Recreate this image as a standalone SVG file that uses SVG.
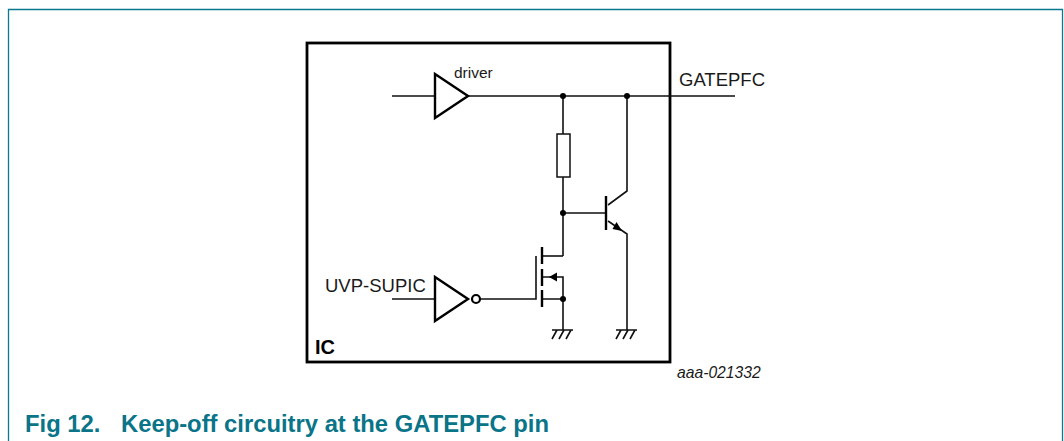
<svg xmlns="http://www.w3.org/2000/svg" width="1064" height="441" viewBox="0 0 1064 441">
<style>
text{font-family:"Liberation Sans",Arial,sans-serif;fill:#1a1a1a}
.w{fill:none;stroke:#111;stroke-width:1.6}
.t{fill:none;stroke:#000;stroke-width:2.4}
.d{fill:#000;stroke:none}
.l{font-size:18.500px}
.c{fill:#0a7488}
</style>
<defs>
<g id="gnd"><path class="w" d="M-10 0H11M-5 0L-10 9M2 0L-3 9M9 0L4 9"/></g>
</defs>
<rect width="1064" height="441" fill="#fff"/>
<path id="frame" d="M8.500 441V9.500H1062.500V441" fill="none" stroke="#0a7a8e" stroke-width="1.300"/>
<rect id="ic" x="307" y="43" width="363" height="319" fill="none" stroke="#000" stroke-width="2.800"/>
<g id="connectors">
<path class="w" d="M392 96H435M468 96H735"/>
<path class="w" d="M563 96V134M563 177V256M563 213H606"/>
<path class="w" d="M627 96V191L608 205M608 221L627 234V330"/>
<path class="w" d="M392 299H435M480 299H536V256"/>
<path class="w" d="M542 299H563M542 277H563V330"/>
<path class="w" d="M542 256H563"/>
</g>
<g id="driver"><path class="t" d="M435 74V118L468 96Z"/><text x="454" y="78" font-size="15.500">driver</text></g>
<g id="inverter"><path class="t" d="M435 277V321L468 299Z"/><circle cx="476" cy="299" r="4" fill="none" stroke="#000" stroke-width="2.200"/></g>
<g id="resistor"><rect x="557" y="134" width="13" height="43" fill="#fff" stroke="#111" stroke-width="1.500"/></g>
<g id="junctions">
<circle class="d" cx="563" cy="96" r="3"/><circle class="d" cx="627" cy="96" r="3"/>
<circle class="d" cx="563" cy="213" r="3"/><circle class="d" cx="563" cy="299" r="3"/>
</g>
<g id="bjt"><path class="t" d="M606 196V230"/><path class="d" d="M622 231L612.500 229L616.500 222Z"/></g>
<g id="mosfet"><path class="t" d="M542 247V264M542 269V286M542 290V307"/><path class="d" d="M549 277L557 272.500V281.500Z"/></g>
<use id="ground-1" href="#gnd" x="562" y="330"/>
<use id="ground-2" href="#gnd" x="626" y="330"/>
<text x="679" y="86" class="l">GATEPFC</text>
<text x="325" y="292" class="l">UVP-SUPIC</text>
<text x="315" y="354" font-size="20" font-weight="bold" style="fill:#000">IC</text>
<text x="677" y="378" font-size="15.700" font-style="italic">aaa-021332</text>
<g id="caption" font-size="23.800" font-weight="bold">
<text x="25" y="431.500" class="c">Fig 12.</text>
<text x="121" y="431.500" class="c">Keep-off circuitry at the GATEPFC pin</text>
</g>
</svg>
